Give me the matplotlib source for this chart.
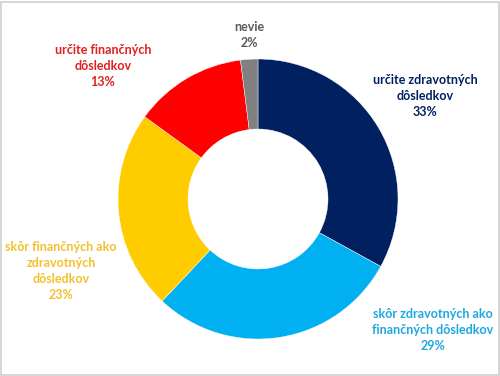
import matplotlib
matplotlib.use('Agg')
from matplotlib import pyplot as plt
from matplotlib.patches import Rectangle

# data, clockwise from top
labels = ['určite zdravotných\ndôsledkov', 'skôr zdravotných ako\nfinančných dôsledkov',
          'skôr finančných ako\nzdravotných\ndôsledkov', 'určite finančných\ndôsledkov', 'nevie']
values = [33, 29, 23, 13, 2]
colors = ['#002060', '#00B0F0', '#FFCC00', '#FF0000', '#808080']
text_colors = ['#002060', '#1EA8E0', '#F2C12E', '#E02020', '#595959']
# label centres in pixel coordinates (x, y from top)
label_pos = [(425, 96), (433, 330), (61, 271), (103, 66), (249, 35)]

plt.rcParams['font.family'] = ['Lato', 'DejaVu Sans']

fig = plt.figure(figsize=(5, 3.76), dpi=100)
ax = fig.add_axes([0, 0, 1, 1])

ax.pie(values, colors=colors, startangle=90, counterclock=False,
       center=(258, 376 - 199), radius=140, frame=True,
       wedgeprops=dict(width=70, edgecolor='white', linewidth=0.3))
ax.set_xlim(0, 500)
ax.set_ylim(0, 376)
ax.set_aspect('equal')
ax.axis('off')

for lab, v, c, (x, y) in zip(labels, values, text_colors, label_pos):
    ax.text(x, 376 - y, lab + '\n' + str(v) + '%', color=c, ha='center', va='center',
            fontsize=9, fontweight='bold', linespacing=1.4)

fig.patches.append(Rectangle((0.002, 0.003), 0.995, 0.993, transform=fig.transFigure,
                             fill=False, edgecolor='#d0d0d0', linewidth=1.2))

fig.savefig('out.png', dpi=100)
